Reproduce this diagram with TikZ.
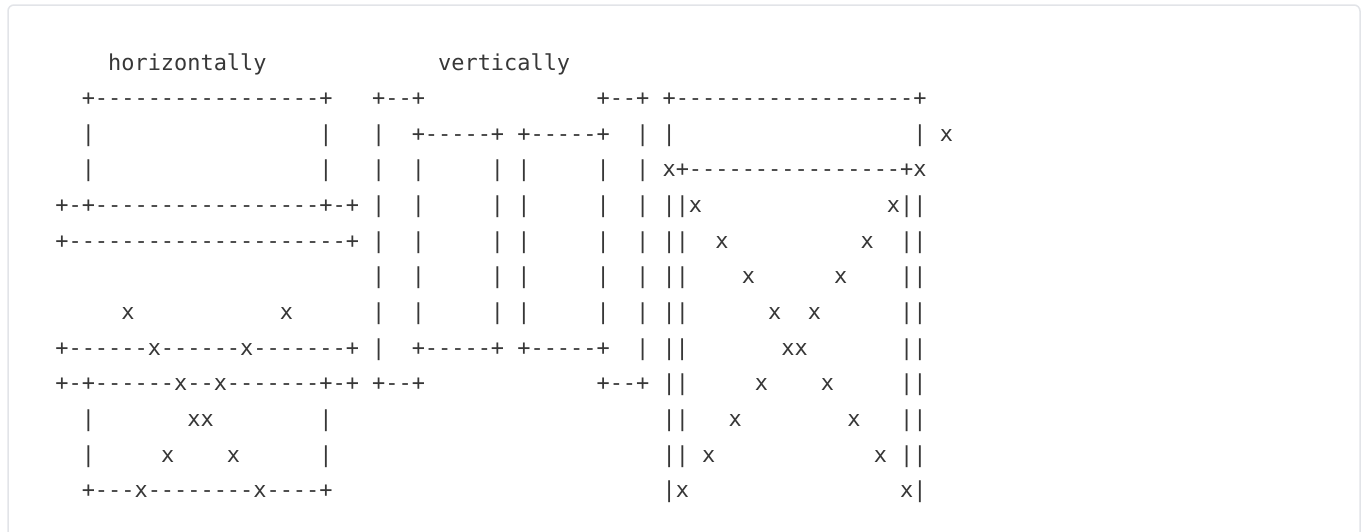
\documentclass[tikz,border=0pt]{standalone}
\usepackage{fontspec}
\newfontfamily\asc{DejaVu Sans Mono}[Ligatures=TeXOff]
\definecolor{ink}{RGB}{55,55,55}
\definecolor{framegray}{RGB}{226,228,232}
\newlength\chw
\newcommand\gap[1]{\hspace*{#1\chw}}
\newcommand\ascfont{\asc\fontsize{21.925pt}{35.64pt}\selectfont}
\tikzset{
  asciirow/.style={anchor=base west, inner sep=0pt, outer sep=0pt, text=ink, font=\ascfont},
  codeframe/.style={draw=framegray, line width=1.5pt, rounded corners=6pt}
}
\begin{document}
\sbox0{\ascfont x}\setlength\chw{\wd0}
\begin{tikzpicture}[x=1pt,y=-1pt]
\useasboundingbox (0,0) rectangle (1366,531);
\begin{scope}
\clip (0,0) rectangle (1366,531);
\fill[white] (0,0) rectangle (1366,531);
\draw[codeframe] (8,5) rectangle (1360,570);
\end{scope}
\def\lx{55.4}
\node[asciirow] (r0) at (\lx,70.00) {\gap{4}horizontally\gap{13}vertically};
\node[asciirow] (r1) at (\lx,105.64) {\gap{2}+-----------------+\gap{3}+--+\gap{13}+--+\gap{1}+------------------+};
\node[asciirow] (r2) at (\lx,141.28) {\gap{2}|\gap{17}|\gap{3}|\gap{2}+-----+\gap{1}+-----+\gap{2}|\gap{1}|\gap{18}|\gap{1}x};
\node[asciirow] (r3) at (\lx,176.92) {\gap{2}|\gap{17}|\gap{3}|\gap{2}|\gap{5}|\gap{1}|\gap{5}|\gap{2}|\gap{1}x+----------------+x};
\node[asciirow] (r4) at (\lx,212.56) {+-+-----------------+-+\gap{1}|\gap{2}|\gap{5}|\gap{1}|\gap{5}|\gap{2}|\gap{1}||x\gap{14}x||};
\node[asciirow] (r5) at (\lx,248.20) {+---------------------+\gap{1}|\gap{2}|\gap{5}|\gap{1}|\gap{5}|\gap{2}|\gap{1}||\gap{2}x\gap{10}x\gap{2}||};
\node[asciirow] (r6) at (\lx,283.84) {\gap{24}|\gap{2}|\gap{5}|\gap{1}|\gap{5}|\gap{2}|\gap{1}||\gap{4}x\gap{6}x\gap{4}||};
\node[asciirow] (r7) at (\lx,319.48) {\gap{5}x\gap{11}x\gap{6}|\gap{2}|\gap{5}|\gap{1}|\gap{5}|\gap{2}|\gap{1}||\gap{6}x\gap{2}x\gap{6}||};
\node[asciirow] (r8) at (\lx,355.12) {+------x------x-------+\gap{1}|\gap{2}+-----+\gap{1}+-----+\gap{2}|\gap{1}||\gap{7}xx\gap{7}||};
\node[asciirow] (r9) at (\lx,390.76) {+-+------x--x-------+-+\gap{1}+--+\gap{13}+--+\gap{1}||\gap{5}x\gap{4}x\gap{5}||};
\node[asciirow] (r10) at (\lx,426.40) {\gap{2}|\gap{7}xx\gap{8}|\gap{25}||\gap{3}x\gap{8}x\gap{3}||};
\node[asciirow] (r11) at (\lx,462.04) {\gap{2}|\gap{5}x\gap{4}x\gap{6}|\gap{25}||\gap{1}x\gap{12}x\gap{1}||};
\node[asciirow] (r12) at (\lx,497.68) {\gap{2}+---x--------x----+\gap{25}|x\gap{16}x|};
\end{tikzpicture}
\end{document}
